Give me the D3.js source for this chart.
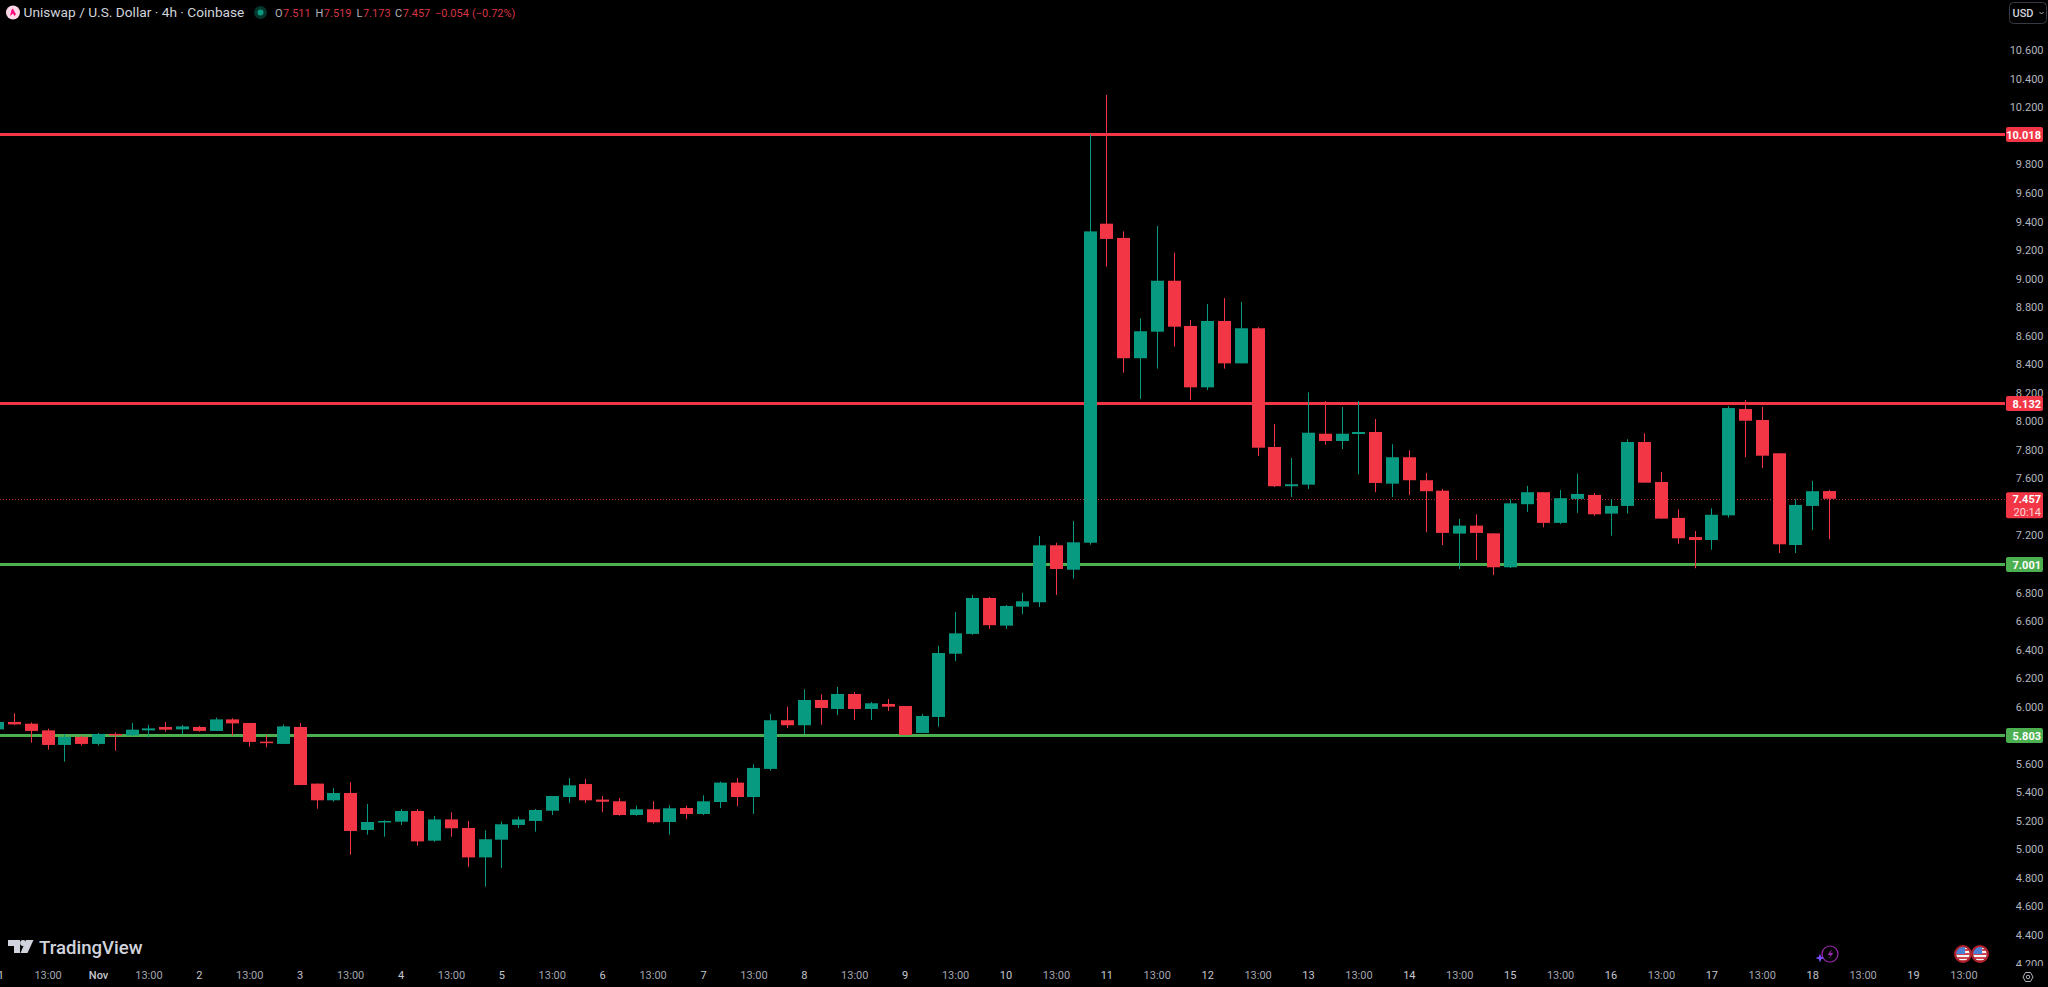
<!DOCTYPE html>
<html>
<head>
<meta charset="utf-8">
<title>Uniswap / U.S. Dollar 4h</title>
<script src="https://d3js.org/d3.v7.min.js"></script>
<style>
html,body{margin:0;padding:0;background:#000;overflow:hidden}
svg{display:block}
text{font-family:Roboto,"Liberation Sans",sans-serif}
</style>
</head>
<body>
<script>
const opens=[5.841,5.893,5.881,5.834,5.732,5.788,5.739,5.809,5.799,5.834,5.858,5.841,5.858,5.830,5.911,5.886,5.755,5.739,5.858,5.461,5.344,5.395,5.136,5.194,5.194,5.269,5.061,5.210,5.150,4.944,5.068,5.171,
5.199,5.271,5.367,5.458,5.349,5.337,5.241,5.281,5.192,5.290,5.248,5.332,5.468,5.367,5.564,5.905,5.870,6.047,5.984,6.089,5.984,6.019,6.005,5.816,5.928,6.371,6.510,6.762,6.568,6.701,6.732,7.131,6.960,7.149,
9.385,9.285,8.442,8.628,8.985,8.668,8.238,8.703,8.406,8.652,7.820,7.545,7.556,7.913,7.862,7.911,7.925,7.563,7.748,7.587,7.514,7.213,7.269,7.215,6.977,7.419,7.503,7.288,7.456,7.484,7.353,
7.407,7.855,7.575,7.323,7.189,7.168,7.341,8.086,8.009,7.776,7.133,7.407,7.511];
const highs=[5.898,5.954,5.890,5.846,5.809,5.797,5.816,5.820,5.886,5.872,5.893,5.872,5.865,5.923,5.919,5.886,5.802,5.876,5.886,5.461,5.430,5.470,5.318,5.204,5.283,5.283,5.234,5.260,5.199,5.134,5.194,5.229,
5.283,5.374,5.500,5.493,5.374,5.360,5.306,5.337,5.309,5.306,5.379,5.475,5.500,5.596,5.949,6.000,6.122,6.087,6.138,6.103,6.033,6.054,6.005,5.949,6.426,6.664,6.781,6.769,6.713,6.797,7.196,7.149,7.301,10.013,
10.287,9.331,8.722,9.369,9.182,8.710,8.822,8.864,8.836,8.659,7.981,7.743,8.203,8.142,8.100,8.142,8.016,7.839,7.797,7.638,7.526,7.316,7.348,7.215,7.454,7.547,7.503,7.519,7.633,7.498,7.454,
7.874,7.916,7.645,7.383,7.231,7.390,8.107,8.149,8.100,7.776,7.454,7.582,7.519];
const lows=[5.837,5.872,5.748,5.699,5.615,5.727,5.727,5.692,5.797,5.783,5.825,5.806,5.825,5.830,5.797,5.720,5.715,5.739,5.451,5.285,5.334,4.963,5.103,5.089,5.171,5.026,5.052,5.089,4.877,4.739,4.870,5.150,
5.124,5.241,5.325,5.325,5.260,5.236,5.236,5.180,5.103,5.213,5.241,5.290,5.302,5.248,5.552,5.851,5.807,5.874,5.942,5.907,5.907,5.970,5.799,5.816,5.860,6.320,6.503,6.545,6.545,6.648,6.699,6.783,6.897,7.135,
9.084,8.341,8.157,8.369,8.524,8.149,8.219,8.369,8.406,7.757,7.540,7.470,7.526,7.836,7.806,7.629,7.503,7.468,7.484,7.222,7.133,6.965,7.028,6.923,6.972,7.365,7.257,7.281,7.358,7.337,7.198,
7.353,7.570,7.318,7.142,6.970,7.100,7.325,7.748,7.671,7.077,7.077,7.238,7.173];
const closes=[5.893,5.876,5.830,5.732,5.788,5.739,5.809,5.802,5.839,5.848,5.839,5.862,5.830,5.911,5.883,5.753,5.746,5.862,5.451,5.344,5.395,5.129,5.192,5.199,5.269,5.056,5.210,5.148,4.944,5.071,5.176,5.210,
5.276,5.374,5.449,5.344,5.334,5.241,5.281,5.190,5.288,5.248,5.337,5.468,5.367,5.571,5.905,5.870,6.047,5.991,6.089,5.984,6.024,6.000,5.802,5.935,6.376,6.514,6.762,6.571,6.706,6.739,7.131,6.965,7.152,9.331,
9.278,8.442,8.631,8.985,8.663,8.238,8.703,8.406,8.652,7.815,7.545,7.559,7.920,7.862,7.913,7.925,7.568,7.748,7.587,7.510,7.218,7.269,7.218,6.977,7.425,7.503,7.288,7.461,7.491,7.348,7.407,
7.855,7.570,7.318,7.180,7.168,7.345,8.093,8.004,7.759,7.138,7.414,7.510,7.457];

// 5.8, 7.0, 7.4 and 10.0 sit behind the price tags in the picture, so they are not shown.
const priceTicks=[4.2,4.4,4.6,4.8,5.0,5.2,5.4,5.6,6.0,6.2,6.4,6.6,6.8,7.2,7.6,7.8,8.0,8.2,8.4,8.6,8.8,9.0,9.2,9.4,9.6,9.8,10.2,10.4,10.6];
const resistanceLevels=[10.018,8.132];
const supportLevels=[7.001,5.803];
const lastPrice=7.457;
const countdown="20:14";
const dayLabels=["31","Nov","2","3","4","5","6","7","8","9","10","11","12","13","14","15","16","17","18","19"];
const legendText="Uniswap / U.S. Dollar · 4h · Coinbase";
const legendValues=[["O","7.511"],["H","7.519"],["L","7.173"],["C","7.457"]];
const legendChange=["−0.054","(−0.72%)"];

const W=2048,H=987,paneRight=2005,paneBottom=966;
const UP="#089981",DOWN="#F23645",GREEN="#4CAF50";
const x=d3.scaleLinear().domain([0,109]).range([-2.8,1829]);
const y=d3.scaleLinear().domain([4.4,10.6]).range([935,50.3]);
const bodyW=13;
const levelY=v=>Math.round(y(v)+.5)+.5;

const svg=d3.select("body").append("svg").attr("width",W).attr("height",H).style("background","#000");
svg.append("defs").append("clipPath").attr("id","pane").append("rect").attr("x",0).attr("y",0).attr("width",paneRight).attr("height",paneBottom);
svg.append("defs").append("clipPath").attr("id","paxis").append("rect").attr("x",paneRight).attr("y",0).attr("width",W-paneRight).attr("height",paneBottom);

// price axis
const yAxis=d3.axisRight(y).tickValues(priceTicks).tickFormat(d3.format(".3f")).tickSize(0).tickPadding(0);
const yG=svg.append("g").attr("clip-path","url(#paxis)").append("g").attr("transform",`translate(2043.5,0)`).call(yAxis);
yG.select(".domain").remove();
yG.selectAll("text").attr("text-anchor","end").attr("fill","#b2b5be").style("font-size","11px").style("font-family","Roboto,sans-serif");

// time axis
const timeTicks=[];
dayLabels.forEach((d,i)=>{timeTicks.push({i:i*6,t:d,day:true});timeTicks.push({i:i*6+3,t:"13:00",day:false});});
const labelByIdx=new Map(timeTicks.map(d=>[d.i,d]));
const xAxis=d3.axisBottom(x).tickValues(timeTicks.map(d=>d.i)).tickFormat(d=>labelByIdx.get(d).t).tickSize(0).tickPadding(0);
const xG=svg.append("g").attr("transform","translate(0,971)").call(xAxis);
xG.select(".domain").remove();
xG.selectAll("text").attr("fill",d=>labelByIdx.get(d).day?"#c4c7cf":"#a3a6af").style("font-size","11px").style("font-family","Roboto,sans-serif").style("font-weight",d=>labelByIdx.get(d).t==="Nov"?"500":"400");

const pane=svg.append("g").attr("clip-path","url(#pane)");
// levels
pane.append("line").attr("x1",0).attr("x2",paneRight).attr("y1",Math.round(y(lastPrice))+.5).attr("y2",Math.round(y(lastPrice))+.5)
  .attr("stroke",DOWN).attr("stroke-opacity",.75).attr("stroke-width",1).attr("stroke-dasharray","1 2");
pane.selectAll(".res").data(resistanceLevels).join("line").attr("x1",0).attr("x2",paneRight).attr("y1",levelY).attr("y2",levelY).attr("stroke",DOWN).attr("stroke-width",3);
pane.selectAll(".sup").data(supportLevels).join("line").attr("x1",0).attr("x2",paneRight).attr("y1",levelY).attr("y2",levelY).attr("stroke",GREEN).attr("stroke-width",3);

// candles
const candles=opens.map((o,i)=>({i,o,h:highs[i],l:lows[i],c:closes[i]}));
const gc=pane.selectAll(".c").data(candles).join("g");
gc.append("line").attr("x1",d=>Math.round(x(d.i))+.5).attr("x2",d=>Math.round(x(d.i))+.5)
  .attr("y1",d=>y(d.h)).attr("y2",d=>y(d.l)).attr("stroke",d=>d.c>=d.o?UP:DOWN).attr("stroke-width",1);
gc.append("rect").attr("x",d=>Math.round(x(d.i))+.5-bodyW/2).attr("width",bodyW)
  .attr("y",d=>y(Math.max(d.o,d.c))).attr("height",d=>Math.max(1.5,Math.abs(y(d.o)-y(d.c))))
  .attr("fill",d=>d.c>=d.o?UP:DOWN);

// level tags
function tag(v,col){
  const cy=levelY(v);
  svg.append("rect").attr("x",2006).attr("y",cy-7.5).attr("width",37).attr("height",15).attr("rx",2).attr("fill",col);
  svg.append("text").attr("x",2041).attr("y",cy+4).attr("text-anchor","end").attr("fill","#fff").style("font-size","11px").style("font-weight","700").text(d3.format(".3f")(v));
}
resistanceLevels.forEach(v=>tag(v,DOWN));
supportLevels.forEach(v=>tag(v,GREEN));
const ly=y(lastPrice);
svg.append("rect").attr("x",2006).attr("y",ly-6.5).attr("width",37).attr("height",26).attr("rx",2).attr("fill",DOWN);
svg.append("text").attr("x",2041).attr("y",ly+4).attr("text-anchor","end").attr("fill","#fff").style("font-size","11px").style("font-weight","700").text(d3.format(".3f")(lastPrice));
svg.append("text").attr("x",2041).attr("y",ly+17).attr("text-anchor","end").attr("fill","#fff").attr("fill-opacity",.8).style("font-size","11px").text(countdown);

// legend
const head=svg.append("g");
head.append("circle").attr("cx",13).attr("cy",12.5).attr("r",7).attr("fill","#ffd6e8");
head.append("path").attr("d","M10 16 L11.5 10 L13 8.5 L14 11 L16 14 L14.5 16 L13 13.5 Z").attr("fill","#ff007a");
head.append("text").attr("x",23.5).attr("y",17).attr("fill","#d1d4dc").style("font-size","13.7px").text(legendText);
head.append("circle").attr("cx",260.5).attr("cy",12.5).attr("r",6.5).attr("fill","#06352c");
head.append("circle").attr("cx",260.5).attr("cy",12.5).attr("r",3).attr("fill","#089981");
const lx=[275,315.5,356.5,395];
legendValues.forEach((d,i)=>{
  const t=head.append("text").attr("x",lx[i]).attr("y",16.5).style("font-size","11px");
  t.append("tspan").attr("fill","#b2b5be").text(d[0]);
  t.append("tspan").attr("fill","#d63545").attr("dx",.5).text(d[1]);
});
head.append("text").attr("x",435).attr("y",16.5).attr("fill","#d63545").style("font-size","11px").text(legendChange[0]);
head.append("text").attr("x",472).attr("y",16.5).attr("fill","#d63545").style("font-size","11px").text(legendChange[1]);

// currency button
svg.append("rect").attr("x",2009.5).attr("y",2.5).attr("width",37).attr("height",21).attr("rx",4).attr("fill","#000").attr("stroke","#363a45");
svg.append("text").attr("x",2012.5).attr("y",17).attr("fill","#d1d4dc").style("font-size","11px").style("font-weight","500").text("USD");
svg.append("path").attr("d","M2039.5 12 L2041.5 14 L2043.5 12").attr("fill","none").attr("stroke","#b2b5be");

// watermark
const wm=svg.append("g").attr("fill","#d1d4dc");
wm.append("path").attr("d","M8 940 H20 V953 H14 V946 H8 Z");
wm.append("circle").attr("cx",23).attr("cy",943).attr("r",2.9);
wm.append("path").attr("d","M26 940 H33.5 L27.5 953 H20.5 Z");
wm.append("text").attr("x",39).attr("y",953.5).attr("fill","#d1d4dc").style("font-size","18.6px").style("font-weight","500").text("TradingView");

// lightning badge
const bolt=svg.append("g");
bolt.append("circle").attr("cx",1830).attr("cy",954).attr("r",8).attr("fill","none").attr("stroke","#9c27b0").attr("stroke-width",1.2);
bolt.append("path").attr("d","M1832 949 L1827.5 955 H1830.5 L1828.5 959 L1833.5 953 H1830.5 Z").attr("fill","#9c27b0");
bolt.append("path").attr("d","M1820 953.5 L1821.2 956.8 L1824.5 958 L1821.2 959.2 L1820 962.5 L1818.8 959.2 L1815.5 958 L1818.8 956.8 Z").attr("fill","#7c4dff");

// event flags
[1963,1980].forEach((cx,k)=>{
  const id="flag"+k;
  svg.append("defs").append("clipPath").attr("id",id).append("circle").attr("cx",cx).attr("cy",954).attr("r",7);
  const g=svg.append("g");
  const f=g.append("g").attr("clip-path",`url(#${id})`);
  f.append("rect").attr("x",cx-7).attr("y",947).attr("width",14).attr("height",14).attr("fill","#f5f5f5");
  [949,953,957,960].forEach(v=>f.append("rect").attr("x",cx-7).attr("y",v).attr("width",14).attr("height",2).attr("fill","#d0434f"));
  f.append("rect").attr("x",cx-7).attr("y",947).attr("width",9).attr("height",7).attr("fill","#4a7fd6");
  g.append("circle").attr("cx",cx).attr("cy",954).attr("r",8).attr("fill","none").attr("stroke","#b3202c").attr("stroke-width",2);
});

// settings hexagon
svg.append("path").attr("d","M2023 977 L2025.5 972.5 H2030.5 L2033 977 L2030.5 981.5 H2025.5 Z").attr("fill","none").attr("stroke","#b2b5be");
svg.append("circle").attr("cx",2028).attr("cy",977).attr("r",1.8).attr("fill","none").attr("stroke","#b2b5be");
</script>
</body>
</html>
